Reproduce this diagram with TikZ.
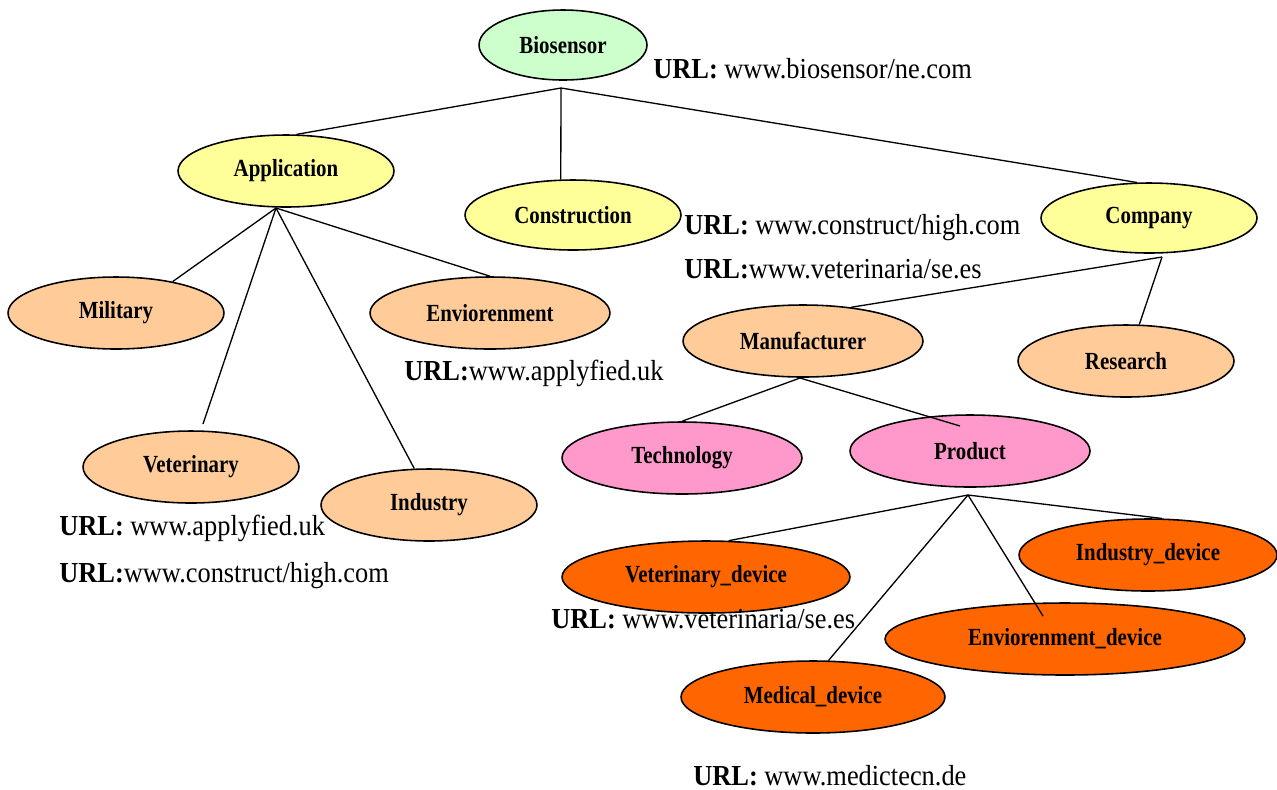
\documentclass[tikz,border=0pt]{standalone}
\usepackage{fontspec}
\setmainfont{Liberation Serif}
\newfontfamily\lblfont{Liberation Serif}[FakeStretch=0.85]
\newfontfamily\urlfont{Liberation Serif}[FakeStretch=0.91]
\usepackage{tikz}
\usetikzlibrary{shapes.geometric}
\definecolor{mint}{HTML}{CCFFCC}
\definecolor{lemon}{HTML}{FFFF99}
\definecolor{peach}{HTML}{FFCC99}
\definecolor{rose}{HTML}{FF99CC}
\definecolor{tangerine}{HTML}{FF6600}
\tikzset{
	concept/.style={ellipse,draw,line width=0.9pt,minimum height=1.44cm,inner sep=0pt,font=\lblfont\fontsize{14}{16}\selectfont\bfseries},
	url/.style={anchor=base west,inner sep=0pt,font=\urlfont\fontsize{16.5}{18}\selectfont},
	link/.style={line width=0.75pt}
}

\begin{document}
\begin{tikzpicture}[x=0.02cm,y=-0.02cm]
	\useasboundingbox (0,0) rectangle (1277,789);
	% concepts
	\node[concept,fill=mint,minimum width=3.36cm,minimum height=1.4cm] (bio) at (563,45) {Biosensor};
	\node[concept,fill=lemon,minimum width=4.32cm] (app) at (286,171) {Application};
	\node[concept,fill=lemon,minimum width=4.32cm,minimum height=1.4cm] (con) at (573,215) {Construction};
	\node[concept,fill=lemon,minimum width=4.32cm,minimum height=1.4cm] (comp) at (1149,218) {Company};
	\node[concept,fill=peach,minimum width=4.32cm] (mil) at (116,313) {Military};
	\node[concept,fill=peach,minimum width=4.8cm] (env) at (490,313) {Enviorenment};
	\node[concept,fill=peach,minimum width=4.8cm] (man) at (803,341) {Manufacturer};
	\node[concept,fill=peach,minimum width=4.32cm] (res) at (1126,361) {Research};
	\node[concept,fill=peach,minimum width=4.32cm] (vet) at (191,467) {Veterinary};
	\node[concept,fill=peach,minimum width=4.32cm] (ind) at (429,505) {Industry};
	\node[concept,fill=rose,minimum width=4.8cm] (tech) at (682,458) {Technology};
	\node[concept,fill=rose,minimum width=4.8cm] (prod) at (970,451) {Product};
	\node[concept,fill=tangerine,minimum width=5.76cm] (vetdev) at (706,577) {Veterinary\_device};
	\node[concept,fill=tangerine,minimum width=5.16cm] (inddev) at (1148,555) {Industry\_device};
	\node[concept,fill=tangerine,minimum width=7.2cm] (envdev) at (1065,639) {Enviorenment\_device};
	\node[concept,fill=tangerine,minimum width=5.28cm] (meddev) at (813,697) {Medical\_device};
	% branch points
	\coordinate (bioHub) at (561,88);
	\coordinate (appHub) at (276,208);
	\coordinate (compHub) at (1162,257);
	\coordinate (manHub) at (800,378);
	\coordinate (prodHub) at (968,495);
	\coordinate (vetEnd) at (203,424);
	\coordinate (prodEnd) at (960,426);
	\coordinate (envdevEnd) at (1043,616);
	% links
	\draw[link] (bioHub) -- (app.74);
	\draw[link] (bioHub) -- (con.109);
	\draw[link] (bioHub) -- (comp.109);
	\draw[link] (appHub) -- (mil.29);
	\draw[link] (appHub) -- (vetEnd);
	\draw[link] (appHub) -- (ind.112);
	\draw[link] (appHub) -- (env.north);
	\draw[link] (compHub) -- (man.35);
	\draw[link] (compHub) -- (res.70);
	\draw[link] (manHub) -- (tech.north);
	\draw[link] (manHub) -- (prodEnd);
	\draw[link] (prodHub) -- (vetdev.58);
	\draw[link] (prodHub) -- (inddev.69);
	\draw[link] (prodHub) -- (envdevEnd);
	\draw[link] (prodHub) -- (meddev.67);
	% addresses
	\node[url] (urlBio) at (653,78) {\textbf{URL:} www.biosensor/ne.com};
	\node[url] (urlCon) at (684,234) {\textbf{URL:} www.construct/high.com};
	\node[url] (urlVetA) at (684,278) {\textbf{URL:}www.veterinaria/se.es};
	\node[url] (urlEnv) at (404,380) {\textbf{URL:}www.applyfied.uk};
	\node[url] (urlVet) at (59,535) {\textbf{URL:} www.applyfied.uk};
	\node[url] (urlMil) at (59,582) {\textbf{URL:}www.construct/high.com};
	\node[url] (urlVetB) at (551,628) {\textbf{URL:} www.veterinaria/se.es};
	\node[url] (urlMed) at (693,785) {\textbf{URL:} www.medictecn.de};
\end{tikzpicture}
\end{document}
